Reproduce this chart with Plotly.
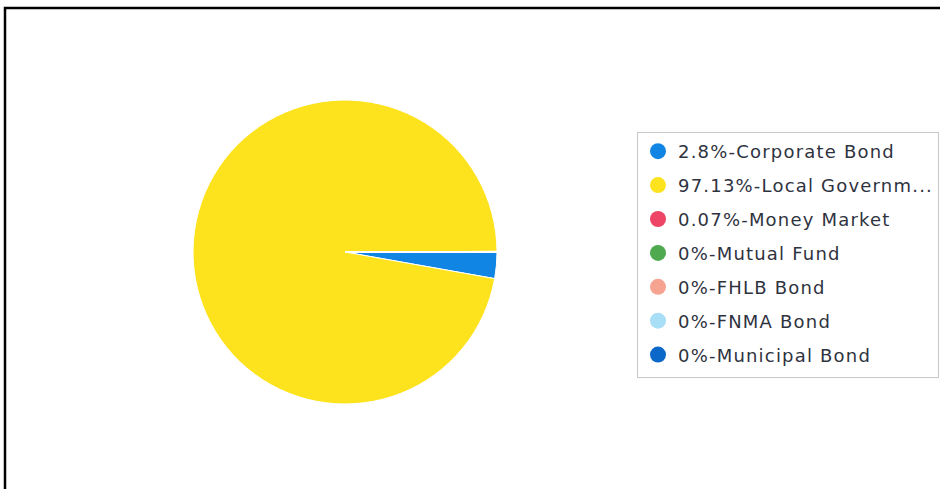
import plotly.graph_objects as go

labels = ["Corporate Bond", "Local Government", "Money Market", "Mutual Fund",
          "FHLB Bond", "FNMA Bond", "Municipal Bond"]
values = [2.8, 97.13, 0.07, 0, 0, 0, 0]
legend_text = ["2.8%-Corporate Bond", "97.13%-Local Governm...", "0.07%-Money Market",
               "0%-Mutual Fund", "0%-FHLB Bond", "0%-FNMA Bond", "0%-Municipal Bond"]
colors = ["#1185e3", "#fde31e", "#ee4466", "#4fa94f", "#f6a391", "#a9dff6", "#0b68c9"]

W, H = 940, 489

fig = go.Figure()
fig.add_trace(go.Pie(
    labels=labels, values=values, sort=False, direction="clockwise", rotation=90,
    marker=dict(colors=colors, line=dict(color="white", width=1)),
    textinfo="none", showlegend=False,
    domain=dict(x=[193 / W, 497 / W], y=[1 - 404 / H, 1 - 100 / H]),
))
for i, (t, c) in enumerate(zip(legend_text, colors)):
    fig.add_trace(go.Scatter(
        x=[None], y=[None], mode="markers", name=t, legendgroup=str(i),
        marker=dict(color=c, size=16, symbol="circle"),
    ))

fig.update_layout(
    width=W, height=H, margin=dict(l=0, r=0, t=0, b=0),
    paper_bgcolor="white", plot_bgcolor="white",
    xaxis=dict(visible=False), yaxis=dict(visible=False),
    legend=dict(x=637 / W, y=1 - 132 / H, xanchor="left", yanchor="top",
                bordercolor="#c8c8c8", borderwidth=1, bgcolor="white",
                font=dict(family="DejaVu Sans", size=18, color="#2f3340"),
                tracegroupgap=7.5, itemclick=False),
    shapes=[dict(type="rect", xref="paper", yref="paper",
                 x0=5 / W, x1=1.02, y0=-0.02, y1=1 - 8 / H,
                 line=dict(color="black", width=2.5))],
)
post = """
document.body.style.margin='0';
var gd = document.getElementById('{plot_id}');
gd.querySelectorAll('.legendtext').forEach(function(e){ e.style.letterSpacing='1.2px'; });
gd.querySelectorAll('.legend .scrollbox').forEach(function(e){ e.removeAttribute('clip-path'); });
gd.querySelectorAll('.legend').forEach(function(e){ e.removeAttribute('clip-path'); });
var bg = gd.querySelector('.legend .bg');
if (bg) { bg.setAttribute('width', 301); bg.setAttribute('height', 245); }
"""
fig.write_html("out.html", config={"displayModeBar": False}, post_script=post)
